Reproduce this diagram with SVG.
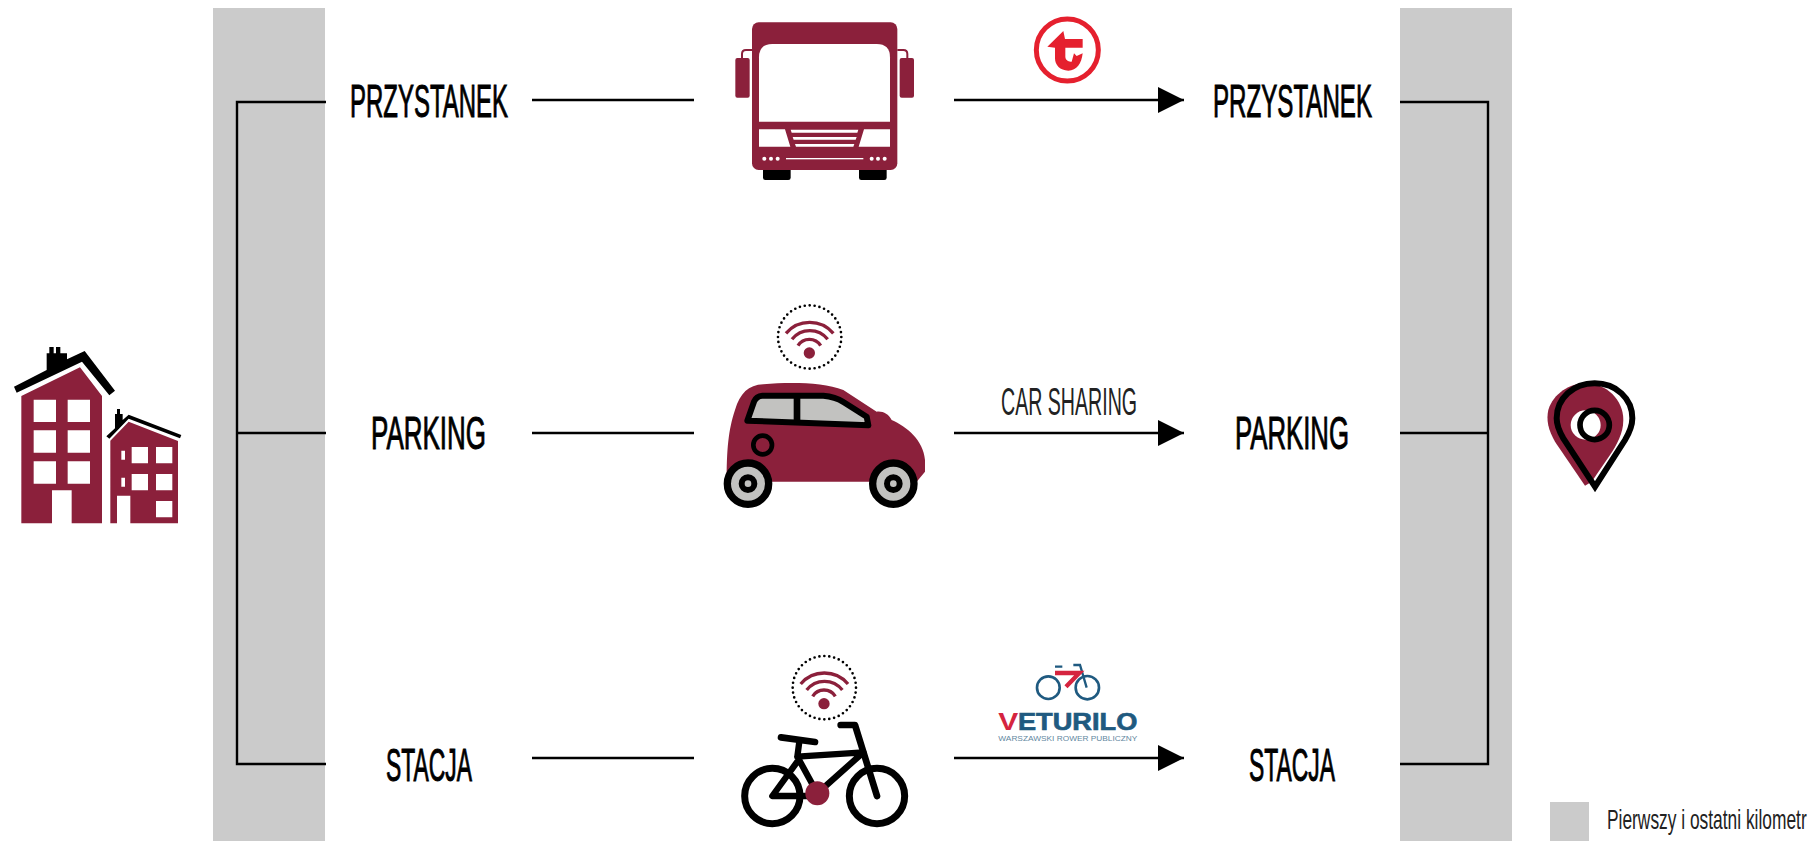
<svg xmlns="http://www.w3.org/2000/svg" width="1811" height="841" viewBox="0 0 1811 841">
<style>
text{font-family:"Liberation Sans",Arial,sans-serif}
.lab{font-size:46px;font-weight:400;fill:#000;stroke:#000;stroke-width:1px}
.thin{font-size:38px;fill:#222}
.leg{font-size:27px;fill:#222}
.c{fill:#8b203b}
.w{fill:#fff}
.k{fill:#000}
.bar{fill:#cbcbcb}
.ln{fill:none;stroke:#000;stroke-width:2.4}
.s{fill:none;stroke:#000;stroke-linecap:round;stroke-linejoin:round}
.g{fill:#c2c2c0}
</style>
<defs>
<marker id="ah" markerUnits="userSpaceOnUse" markerWidth="28" markerHeight="28" refX="27" refY="14" orient="auto"><path d="M1,1 L27,14 L1,27 Z" fill="#000"/></marker>
<g id="wifi">
<circle cx="299" cy="141" r="95" fill="none" stroke="#000" stroke-width="8" stroke-linecap="round" stroke-dasharray="0 14.9"/>
<circle cx="298" cy="189" r="17" class="c"/>
<path d="M228,130 A93,93 0 0 1 370,130 M246,148 A68,68 0 0 1 353,148 M264,167 A40,40 0 0 1 332,167" fill="none" stroke="#8b203b" stroke-width="10"/>
</g>
</defs>
<g id="bars">
<rect class="bar" x="213" y="8" width="112" height="833"/>
<rect class="bar" x="1400" y="8" width="112" height="833"/>
</g>
<g id="connectors">
<path class="ln" d="M326,102 H237 V764 H326 M237,433 H326"/>
<path class="ln" d="M1400,102 H1488 V764 H1400 M1400,433 H1488"/>
<path class="ln" d="M532,100 H694 M532,433 H694 M532,758 H694"/>
<path class="ln" d="M954,100 H1184" marker-end="url(#ah)"/>
<path class="ln" d="M954,433 H1184" marker-end="url(#ah)"/>
<path class="ln" d="M954,758 H1184" marker-end="url(#ah)"/>
</g>
<g id="node-home" transform="translate(0,320) scale(0.33333)">
<path class="c" fill-rule="evenodd" d="M64,228 L240,142 L306,228 V610 H215 V511 H156 V610 H64 Z M101,239 V306 H168 V239 Z M203,239 V306 H270 V239 Z M101,331 V398 H168 V331 Z M203,331 V398 H270 V331 Z M101,424 V491 H168 V424 Z M203,424 V491 H270 V424 Z"/>
<path class="k" d="M42,200 L140,150 V100 H148 V81 H161 V100 H168 V81 H181 V100 H201 V118 L254,93 L345,212 L328,226 L246,125 L50,218 Z"/>
<path class="c" fill-rule="evenodd" d="M331,362 L386,305 L534,363 V610 H391 V527 H351 V610 H331 Z M395,381 V430 H444 V381 Z M468,381 V430 H517 V381 Z M395,462 V511 H444 V462 Z M468,462 V511 H517 V462 Z M468,543 V592 H517 V543 Z M364,392 V419 H375 V392 Z M364,473 V500 H375 V473 Z"/>
<path class="k" d="M319,349 L345,325 V282 H351 V267 H360 V282 H368 V300 L386,284 L544,345 L540,355 L386,296 L328,356 Z"/>
</g>
<g id="node-destination" transform="translate(1520,370) scale(0.33333)">
<path class="c" d="M195,347 L105,215 C85,180 78,150 85,120 C100,70 150,40 197,40 C260,40 310,90 310,150 C310,190 290,225 270,255 L215,335 Z"/>
<ellipse class="w" cx="197" cy="165" rx="45" ry="44"/>
<circle cx="224" cy="165" r="44" fill="none" stroke="#000" stroke-width="17"/>
<path d="M225,350 L130,205 C115,180 110,160 110,145 C110,85 160,40 224,40 C288,40 337,85 337,145 C337,165 330,185 315,210 Z" fill="none" stroke="#000" stroke-width="18" stroke-linejoin="miter"/>
</g>
<g id="node-bus" transform="translate(720,0) scale(0.33333)">
<rect class="k" x="129" y="500" width="83" height="40" rx="7"/>
<rect class="k" x="417" y="500" width="83" height="40" rx="7"/>
<path d="M96,150 H78 Q66,150 66,162 V178 M532,150 H550 Q562,150 562,162 V178" fill="none" stroke="#8b203b" stroke-width="6"/>
<rect class="c" x="46" y="174" width="43" height="119" rx="6"/>
<rect class="c" x="539" y="174" width="43" height="119" rx="6"/>
<rect class="c" x="96" y="67" width="436" height="443" rx="20"/>
<path class="w" d="M117,365 V172 Q117,132 157,132 H470 Q510,132 510,172 V365 Z"/>
<path class="w" d="M117,388 H195 L211,440 H117 Z M432,388 H510 V440 H416 Z M212,389 H415 L412,398 H215 Z M218,411 H410 L407,419 H221 Z M225,432 H403 L400,440 H228 Z"/>
<rect class="w" x="198" y="474" width="232" height="4"/>
<g class="w"><circle cx="133" cy="476" r="6"/><circle cx="153" cy="476" r="6"/><circle cx="173" cy="476" r="6"/><circle cx="455" cy="476" r="6"/><circle cx="474" cy="476" r="6"/><circle cx="494" cy="476" r="6"/></g>
</g>
<g id="node-car" transform="translate(710,290) scale(0.33333)">
<use href="#wifi"/>
<path class="c" d="M50,575 C50,480 55,420 75,360 C90,310 115,285 160,283 C240,276 340,277 400,300 L500,365 C520,363 535,372 545,390 C590,410 640,450 645,510 L645,545 L620,575 Z"/>
<path class="g" d="M112,392 L132,335 Q139,318 157,317 L340,317 C365,319 385,326 400,336 L470,380 L475,406 Z" stroke="#000" stroke-width="18" stroke-linejoin="round"/>
<path d="M261,320 V392" stroke="#000" stroke-width="20"/>
<circle cx="158" cy="465" r="28" class="c" stroke="#000" stroke-width="14"/>
<g stroke="#000"><circle cx="114" cy="581" r="62" class="g" stroke-width="22"/><circle cx="114" cy="581" r="19" class="g" stroke-width="18"/>
<circle cx="550" cy="581" r="62" class="g" stroke-width="22"/><circle cx="550" cy="581" r="19" class="g" stroke-width="18"/></g>
</g>
<g id="node-bike" transform="translate(720,640) scale(0.33333)">
<use href="#wifi" transform="translate(14,2)"/>
<circle class="s" cx="157" cy="468" r="83" stroke-width="21"/>
<circle class="s" cx="471" cy="468" r="83" stroke-width="21"/>
<g class="s">
<path d="M183,292 L285,306" stroke-width="20"/>
<path d="M238,305 L232,350 L430,337 L292,460 L232,350 M232,365 L157,468 H292" stroke-width="19"/>
<path d="M362,255 H405 L471,468" stroke-width="20"/>
</g>
<circle class="c" cx="292" cy="460" r="36"/>
</g>
<g id="logo-tramwaje" transform="translate(1010,0) scale(0.33333)">
<circle cx="172" cy="150" r="93" fill="#fff" stroke="#e5202e" stroke-width="15"/>
<path fill="#e5202e" d="M112,140 L160,93 L165,117 H218 V143 H166 V170 C166,182 178,185 185,185 L192,160 L200,168 L218,160 C215,190 200,212 175,212 C150,212 135,195 135,175 V143 Z"/>
</g>
<g id="logo-veturilo" transform="translate(980,650) scale(0.33333)">
<circle cx="205" cy="113" r="34" fill="none" stroke="#1f5a80" stroke-width="8"/>
<circle cx="322" cy="113" r="35" fill="none" stroke="#1f5a80" stroke-width="8"/>
<path d="M225,50 H247 M280,45 H300 L320,113" fill="none" stroke="#1f5a80" stroke-width="7"/>
<path d="M225,69 H298 L258,110" fill="none" stroke="#d5243f" stroke-width="13"/>
<text x="55" y="240" font-size="72" font-weight="700" fill="#d5243f" textLength="60" lengthAdjust="spacingAndGlyphs">V</text>
<text x="114" y="240" font-size="70" font-weight="700" fill="#1f5a80" stroke="#1f5a80" stroke-width="2" textLength="358" lengthAdjust="spacingAndGlyphs">ETURILO</text>
<text x="55" y="272" font-size="21" fill="#5f87a0" textLength="417" lengthAdjust="spacingAndGlyphs">WARSZAWSKI ROWER PUBLICZNY</text>
</g>
<g id="labels">
<text class="lab" x="350" y="117" textLength="158" lengthAdjust="spacingAndGlyphs">PRZYSTANEK</text>
<text class="lab" x="1213" y="117" textLength="159" lengthAdjust="spacingAndGlyphs">PRZYSTANEK</text>
<text class="lab" x="371" y="449" textLength="115" lengthAdjust="spacingAndGlyphs">PARKING</text>
<text class="lab" x="1235" y="449" textLength="114" lengthAdjust="spacingAndGlyphs">PARKING</text>
<text class="lab" x="386" y="781" textLength="86" lengthAdjust="spacingAndGlyphs">STACJA</text>
<text class="lab" x="1249" y="781" textLength="86" lengthAdjust="spacingAndGlyphs">STACJA</text>
<text class="thin" x="1001" y="415" textLength="136" lengthAdjust="spacingAndGlyphs">CAR SHARING</text>
</g>
<g id="legend">
<rect class="bar" x="1550" y="802" width="39" height="39"/>
<text class="leg" transform="translate(1607,829) scale(0.63,1)" x="0" y="0" textLength="317" lengthAdjust="spacingAndGlyphs">Pierwszy i ostatni kilometr</text>
</g>
</svg>
